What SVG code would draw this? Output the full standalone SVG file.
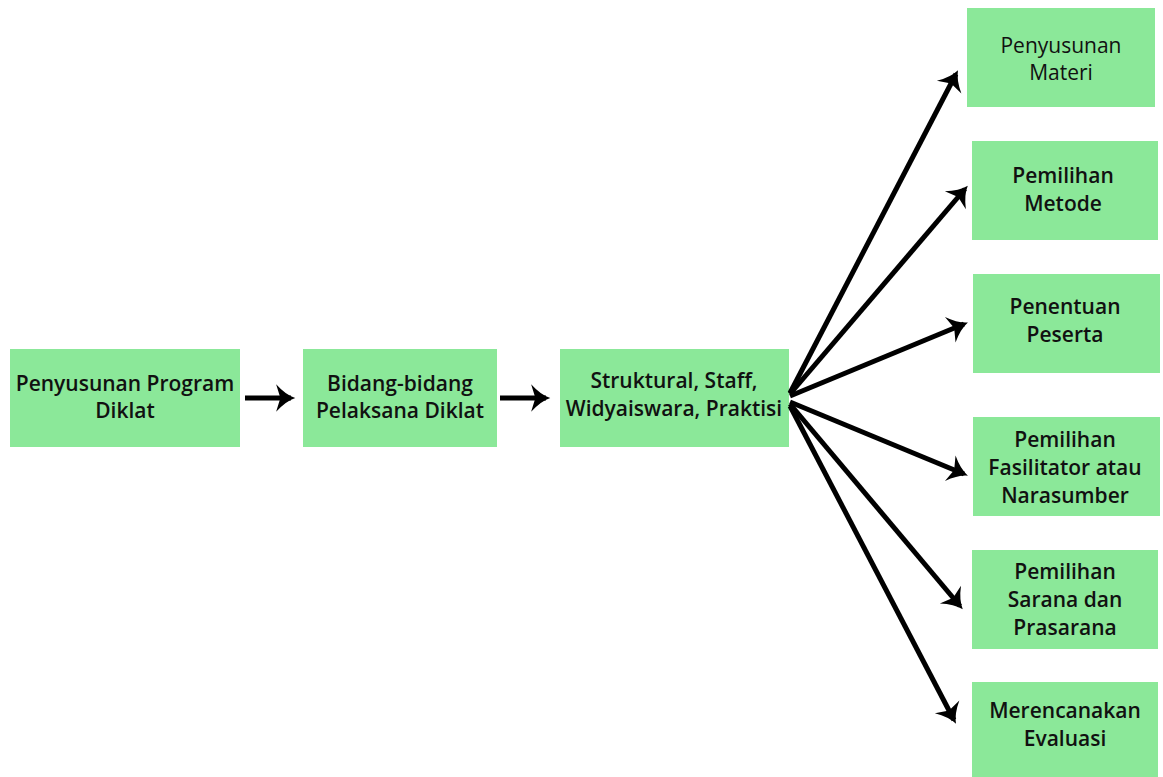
<svg xmlns="http://www.w3.org/2000/svg" width="1163" height="777" viewBox="0 0 1163 777">
<defs>
<style>
.box{fill:#8be899;}
.t{font-family:"Open Sans","Noto Sans",sans-serif;font-size:21px;font-weight:600;fill:#111;text-anchor:middle;}
.tl{font-weight:400;}
.c{stroke:#000;stroke-width:5;fill:none;}
</style>
<marker id="ah" markerUnits="userSpaceOnUse" markerWidth="34" markerHeight="34" viewBox="-28 -15 32 30" refX="-4" refY="0" orient="auto">
<path d="M0,0 Q-9,-3 -18,-13 L-14,0 L-18,13 Q-9,3 0,0 Z" fill="#000"/>
</marker>
</defs>
<rect width="1163" height="777" fill="#fff"/>
<g id="n1"><rect class="box" x="10" y="349" width="230" height="98"/><text class="t" x="125" y="391">Penyusunan Program</text><text class="t" x="125" y="418">Diklat</text></g>
<g id="n2"><rect class="box" x="303" y="349" width="194" height="98"/><text class="t" x="400" y="391">Bidang-bidang</text><text class="t" x="400" y="418">Pelaksana Diklat</text></g>
<g id="n3"><rect class="box" x="560" y="349" width="229" height="98"/><text class="t" x="674" y="388">Struktural, Staff,</text><text class="t" x="674" y="416">Widyaiswara, Praktisi</text></g>
<g id="n4"><rect class="box" x="967" y="8" width="188" height="99"/><text class="t tl" x="1061" y="53">Penyusunan</text><text class="t tl" x="1061" y="80">Materi</text></g>
<g id="n5"><rect class="box" x="972" y="141" width="186" height="99"/><text class="t" x="1063" y="183">Pemilihan</text><text class="t" x="1063" y="211">Metode</text></g>
<g id="n6"><rect class="box" x="973" y="274" width="187" height="99"/><text class="t" x="1065" y="314">Penentuan</text><text class="t" x="1065" y="342">Peserta</text></g>
<g id="n7"><rect class="box" x="973" y="417" width="187" height="99"/><text class="t" x="1065" y="447">Pemilihan</text><text class="t" x="1065" y="475">Fasilitator atau</text><text class="t" x="1065" y="503">Narasumber</text></g>
<g id="n8"><rect class="box" x="972" y="550" width="186" height="99"/><text class="t" x="1065" y="579">Pemilihan</text><text class="t" x="1065" y="607">Sarana dan</text><text class="t" x="1065" y="635">Prasarana</text></g>
<g id="n9"><rect class="box" x="972" y="682" width="186" height="95"/><text class="t" x="1065" y="718">Merencanakan</text><text class="t" x="1065" y="746">Evaluasi</text></g>
<g id="connectors">
<line class="c" x1="245" y1="398" x2="291" y2="398" marker-end="url(#ah)"/>
<line class="c" x1="500" y1="398" x2="546" y2="398" marker-end="url(#ah)"/>
<line class="c" x1="790" y1="393" x2="956" y2="74" marker-end="url(#ah)"/>
<line class="c" x1="790" y1="394" x2="965" y2="189" marker-end="url(#ah)"/>
<line class="c" x1="790" y1="396" x2="964" y2="324" marker-end="url(#ah)"/>
<line class="c" x1="790" y1="402" x2="964" y2="474" marker-end="url(#ah)"/>
<line class="c" x1="790" y1="404" x2="960" y2="606" marker-end="url(#ah)"/>
<line class="c" x1="790" y1="406" x2="954" y2="720" marker-end="url(#ah)"/>
</g>
</svg>
